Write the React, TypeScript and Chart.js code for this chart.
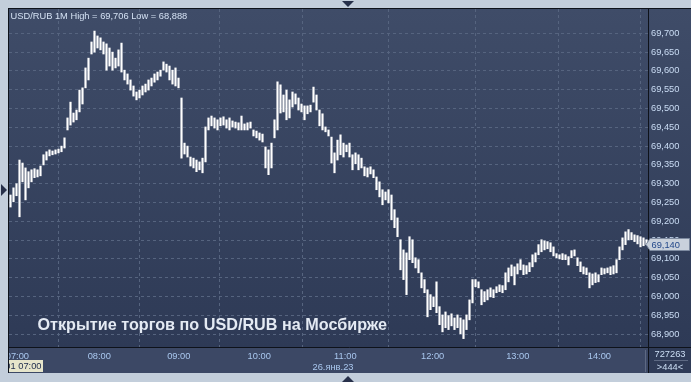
import React, { useEffect, useRef } from 'react';
import { Chart, registerables } from 'chart.js';

Chart.register(...registerables);

// ~2-minute OHLC ranges (high / low), USD/RUB, 26 Jan 2023
const barHigh = [
  69.270, 69.289, 69.300, 69.363, 69.355, 69.342, 69.332, 69.337, 69.340, 69.337,
  69.347, 69.377, 69.385, 69.390, 69.387, 69.390, 69.392, 69.400, 69.422, 69.475,
  69.517, 69.488, 69.496, 69.549, 69.555, 69.608, 69.634, 69.677, 69.706, 69.693,
  69.688, 69.677, 69.672, 69.661, 69.650, 69.634, 69.656, 69.674, 69.602, 69.592,
  69.576, 69.560, 69.544, 69.549, 69.560, 69.565, 69.576, 69.581, 69.592, 69.597,
  69.602, 69.624, 69.618, 69.613, 69.602, 69.608, 69.581, 69.528, 69.408, 69.400,
  69.371, 69.368, 69.363, 69.358, 69.368, 69.451, 69.475, 69.480, 69.475, 69.470,
  69.475, 69.478, 69.470, 69.475, 69.467, 69.464, 69.462, 69.480, 69.459, 69.462,
  69.464, 69.443, 69.440, 69.435, 69.432, 69.398, 69.390, 69.408, 69.470, 69.571,
  69.563, 69.536, 69.549, 69.523, 69.544, 69.539, 69.528, 69.512, 69.507, 69.507,
  69.509, 69.557, 69.536, 69.496, 69.486, 69.451, 69.443, 69.424, 69.382, 69.416,
  69.430, 69.408, 69.403, 69.408, 69.377, 69.382, 69.377, 69.368, 69.345, 69.342,
  69.345, 69.337, 69.318, 69.305, 69.284, 69.278, 69.284, 69.270, 69.231, 69.209,
  69.151, 69.124, 69.116, 69.159, 69.151, 69.103, 69.098, 69.063, 69.045, 69.018,
  69.005, 68.999, 69.039, 68.973, 68.951, 68.959, 68.949, 68.954, 68.943, 68.951,
  68.943, 68.938, 68.951, 68.991, 69.045, 69.045, 69.039, 69.018, 69.013, 69.018,
  69.023, 69.018, 69.026, 69.031, 69.029, 69.063, 69.076, 69.084, 69.079, 69.087,
  69.098, 69.084, 69.082, 69.090, 69.111, 69.116, 69.138, 69.151, 69.148, 69.146,
  69.143, 69.132, 69.114, 69.111, 69.114, 69.111, 69.106, 69.122, 69.124, 69.103,
  69.092, 69.079, 69.076, 69.063, 69.060, 69.063, 69.058, 69.076, 69.074, 69.076,
  69.079, 69.082, 69.098, 69.132, 69.156, 69.172, 69.178, 69.170, 69.164, 69.162,
  69.159, 69.156, 69.151,
];

const barLow = [
  69.238, 69.252, 69.268, 69.212, 69.305, 69.257, 69.289, 69.305, 69.316, 69.318,
  69.321, 69.350, 69.363, 69.374, 69.377, 69.379, 69.382, 69.385, 69.395, 69.443,
  69.456, 69.464, 69.470, 69.491, 69.512, 69.555, 69.576, 69.645, 69.650, 69.661,
  69.656, 69.645, 69.602, 69.613, 69.602, 69.608, 69.613, 69.597, 69.576, 69.565,
  69.549, 69.533, 69.523, 69.528, 69.536, 69.544, 69.549, 69.560, 69.570, 69.576,
  69.586, 69.602, 69.597, 69.576, 69.565, 69.560, 69.555, 69.368, 69.379, 69.371,
  69.347, 69.342, 69.332, 69.337, 69.329, 69.358, 69.443, 69.454, 69.448, 69.443,
  69.454, 69.456, 69.448, 69.443, 69.451, 69.448, 69.443, 69.443, 69.443, 69.443,
  69.448, 69.427, 69.422, 69.416, 69.411, 69.342, 69.324, 69.342, 69.422, 69.443,
  69.488, 69.491, 69.470, 69.475, 69.504, 69.512, 69.496, 69.491, 69.470, 69.486,
  69.491, 69.517, 69.496, 69.454, 69.443, 69.438, 69.427, 69.355, 69.329, 69.363,
  69.377, 69.371, 69.385, 69.371, 69.337, 69.353, 69.337, 69.342, 69.321, 69.318,
  69.326, 69.316, 69.284, 69.265, 69.244, 69.257, 69.249, 69.204, 69.183, 69.159,
  69.071, 69.045, 69.005, 69.098, 69.090, 69.076, 69.063, 69.023, 69.010, 68.946,
  68.965, 68.973, 68.957, 68.925, 68.906, 68.917, 68.912, 68.922, 68.912, 68.917,
  68.901, 68.888, 68.912, 68.938, 68.983, 69.026, 69.023, 68.978, 68.986, 68.991,
  68.999, 68.997, 69.010, 69.013, 69.010, 69.018, 69.039, 69.055, 69.031, 69.060,
  69.071, 69.058, 69.060, 69.066, 69.079, 69.092, 69.111, 69.119, 69.124, 69.127,
  69.119, 69.108, 69.103, 69.100, 69.098, 69.098, 69.084, 69.103, 69.108, 69.082,
  69.066, 69.060, 69.058, 69.023, 69.031, 69.037, 69.039, 69.058, 69.060, 69.063,
  69.058, 69.060, 69.063, 69.098, 69.124, 69.138, 69.151, 69.151, 69.146, 69.140,
  69.132, 69.135, 69.138,
];

// hour boundaries expressed as bar index
const hourLabels = ['07:00', '08:00', '09:00', '10:00', '11:00', '12:00', '13:00', '14:00'];
const hourTickBars = [2.3, 29.6, 56.1, 82.9, 111.6, 140.7, 169.1, 196.3];

const yTickValues = [
  68.9, 68.95, 69.0, 69.05, 69.1, 69.15, 69.2, 69.25, 69.3,
  69.35, 69.4, 69.45, 69.5, 69.55, 69.6, 69.65, 69.7,
];
const yMin = 68.8657;
const yMax = 69.7647;
const lastPrice = 69.14;

const titleText = 'USD/RUB 1M High = 69,706 Low = 68,888';
const captionText = 'Открытие торгов по USD/RUB на Мосбирже';
const dateLabel = '26.янв.23';
const sessionLabel = '01 07:00';
const volumeLabel = '727263';
const countLabel = '>444<';

const W = 691;
const H = 382;
const FONT = '"Liberation Sans", Arial, sans-serif';
const SMALL = 9.3;

const fmt = (v: number) => v.toFixed(3).replace('.', ',');

const decorPlugin = {
  id: 'decor',
  beforeDraw(chart: any) {
    const ctx = chart.ctx;
    const ca = chart.chartArea;
    ctx.save();
    ctx.fillStyle = '#c3cedb';
    ctx.fillRect(0, 0, W, H);
    const g = ctx.createLinearGradient(0, 8, 0, ca.bottom);
    g.addColorStop(0, '#3f4c68');
    g.addColorStop(1, '#2e3a56');
    ctx.fillStyle = g;
    ctx.fillRect(8, 8, W - 8, 365);
    ctx.fillStyle = '#3c4865';
    ctx.fillRect(8, ca.bottom, ca.right - 8, 373 - ca.bottom);
    ctx.fillStyle = '#2f3b57';
    ctx.fillRect(ca.right, ca.bottom, W - ca.right, 373 - ca.bottom);
    ctx.restore();
  },
  afterDraw(chart: any) {
    const ctx = chart.ctx;
    const ca = chart.chartArea;
    ctx.save();
    // frame strips
    ctx.fillStyle = '#c3cedb';
    ctx.fillRect(0, 0, W, 8);
    ctx.fillRect(0, 0, 8, H);
    ctx.fillRect(0, 373, W, H - 373);
    // triangles
    ctx.fillStyle = '#27304a';
    ctx.beginPath();
    ctx.moveTo(342, 1); ctx.lineTo(354, 1); ctx.lineTo(348, 7); ctx.closePath(); ctx.fill();
    ctx.beginPath();
    ctx.moveTo(342, 382); ctx.lineTo(354, 382); ctx.lineTo(348, 376); ctx.closePath(); ctx.fill();
    ctx.beginPath();
    ctx.moveTo(1, 184); ctx.lineTo(1, 196); ctx.lineTo(7, 190); ctx.closePath(); ctx.fill();
    // borders
    ctx.strokeStyle = '#0e121a';
    ctx.lineWidth = 1;
    ctx.beginPath();
    ctx.moveTo(8, 8.5); ctx.lineTo(W, 8.5);
    ctx.moveTo(8, ca.bottom + 0.5); ctx.lineTo(W, ca.bottom + 0.5);
    ctx.moveTo(8.5, 8); ctx.lineTo(8.5, 373);
    ctx.moveTo(ca.right + 0.5, 8); ctx.lineTo(ca.right + 0.5, 373);
    ctx.stroke();
    ctx.strokeStyle = '#5d6983';
    ctx.beginPath();
    ctx.moveTo(ca.right - 2.5, ca.bottom + 3); ctx.lineTo(ca.right - 2.5, 372);
    ctx.moveTo(ca.right + 6, 360.5); ctx.lineTo(W - 3, 360.5);
    ctx.stroke();

    // title
    ctx.font = `${SMALL}px ${FONT}`;
    ctx.fillStyle = '#d4e1f3';
    ctx.textAlign = 'left';
    ctx.textBaseline = 'alphabetic';
    ctx.fillText(titleText, 10.5, 18.5);

    // caption
    ctx.font = `bold 16.2px ${FONT}`;
    ctx.fillStyle = '#e4eaf3';
    ctx.fillText(captionText, 37.5, 329.5);

    // date label
    ctx.font = `${SMALL}px ${FONT}`;
    ctx.fillStyle = '#a9c7ee';
    ctx.textAlign = 'center';
    ctx.textBaseline = 'middle';
    ctx.fillText(dateLabel, 333, 367);

    // bottom right labels
    ctx.fillStyle = '#cddff5';
    ctx.fillText(volumeLabel, 670, 354);
    ctx.fillText(countLabel, 670, 367);

    // session label box
    ctx.fillStyle = '#e6e5cb';
    ctx.fillRect(9, 360, 34, 12);
    ctx.save();
    ctx.beginPath();
    ctx.rect(9, 360, 34, 12);
    ctx.clip();
    ctx.fillStyle = '#1c2a4c';
    ctx.textAlign = 'right';
    ctx.fillText(sessionLabel, 41.5, 366.5);
    ctx.restore();

    // last price box
    const py = Math.round(chart.scales.y.getPixelForValue(lastPrice));
    ctx.fillStyle = '#c9d1dc';
    ctx.strokeStyle = '#7d8aa0';
    ctx.beginPath();
    ctx.moveTo(ca.right - 2, py + 0.5);
    ctx.lineTo(ca.right + 2, py - 5.5);
    ctx.lineTo(W - 1.5, py - 5.5);
    ctx.lineTo(W - 1.5, py + 6.5);
    ctx.lineTo(ca.right + 2, py + 6.5);
    ctx.closePath();
    ctx.fill();
    ctx.stroke();
    ctx.fillStyle = '#23488a';
    ctx.textAlign = 'left';
    ctx.fillText(fmt(lastPrice), ca.right + 3.5, py + 1);
    ctx.restore();
  },
};

export default function App() {
  const ref = useRef<HTMLCanvasElement | null>(null);

  useEffect(() => {
    if (!ref.current) return;
    const data = barHigh.map((h, i) => ({ x: i, y: [barLow[i], h] }));
    const chart = new Chart(ref.current, {
      type: 'bar',
      data: {
        datasets: [
          {
            data: data as any,
            backgroundColor: '#ffffff',
            borderWidth: 0,
            borderSkipped: false,
            barThickness: 1.5,
            minBarLength: 2,
          } as any,
        ],
      },
      options: {
        animation: false,
        responsive: false,
        maintainAspectRatio: false,
        devicePixelRatio: 1,
        layout: { padding: { left: 9, top: 9, right: 0, bottom: 0 } },
        plugins: { legend: { display: false }, tooltip: { enabled: false } },
        scales: {
          x: {
            type: 'linear',
            position: 'bottom',
            min: -0.5,
            max: barHigh.length - 0.5,
            offset: false,
            afterBuildTicks: (s: any) => {
              s.ticks = hourTickBars.map((v) => ({ value: v }));
            },
            afterFit: (s: any) => {
              s.height = H - 347;
            },
            grid: {
              color: (c: any) => (c.index === 0 ? '#e6e8ee' : '#56647f'),
              lineWidth: 1,
              drawTicks: false,
            },
            border: { display: false, dash: [3, 3] },
            ticks: {
              autoSkip: false,
              maxRotation: 0,
              padding: 4,
              color: '#a9c7ee',
              font: { family: FONT, size: SMALL },
              callback: (_v: any, i: number) => hourLabels[i],
            },
          },
          y: {
            type: 'linear',
            position: 'right',
            min: yMin,
            max: yMax,
            afterBuildTicks: (s: any) => {
              s.ticks = yTickValues.map((v) => ({ value: v }));
            },
            afterFit: (s: any) => {
              s.width = W - 648;
            },
            grid: { color: '#56647f', lineWidth: 1, drawTicks: false },
            border: { display: false, dash: [3, 3] },
            ticks: {
              padding: 3,
              color: '#cadcf4',
              font: { family: FONT, size: SMALL },
              callback: (v: any) => fmt(Number(v)),
            },
          },
        },
      } as any,
      plugins: [decorPlugin],
    });
    return () => chart.destroy();
  }, []);

  return (
    <div style={{ position: 'fixed', left: 0, top: 0, width: W, height: H }}>
      <canvas ref={ref} width={W} height={H} style={{ width: W, height: H, display: 'block' }} />
    </div>
  );
}
